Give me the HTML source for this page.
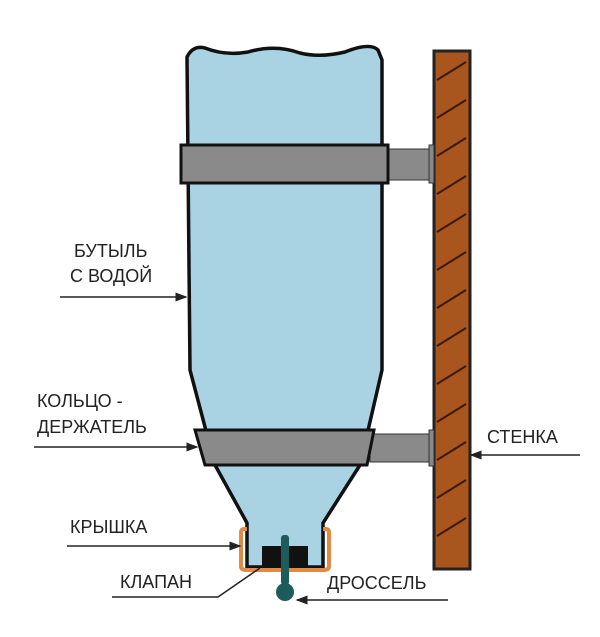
<!DOCTYPE html>
<html><head><meta charset="utf-8"><style>
body{margin:0;background:#fff;width:600px;height:632px;overflow:hidden}
text{font-family:"Liberation Sans",sans-serif;font-size:18px;fill:#222}
</style></head><body>
<svg width="600" height="632" viewBox="0 0 600 632" xmlns="http://www.w3.org/2000/svg">
<defs><marker id="a" markerWidth="8" markerHeight="8" refX="7" refY="4" orient="auto"><path d="M0,1 L8,4 L0,7z" fill="#222"/></marker></defs>
<rect x="434" y="51" width="36" height="518" fill="#a9561e" stroke="#222" stroke-width="3"/>
<g stroke="#3a1a05" stroke-width="2">
<line x1="437" y1="80" x2="466" y2="62"/><line x1="437" y1="118" x2="466" y2="100"/><line x1="437" y1="156" x2="466" y2="138"/><line x1="437" y1="194" x2="466" y2="176"/><line x1="437" y1="232" x2="466" y2="214"/><line x1="437" y1="270" x2="466" y2="252"/><line x1="437" y1="308" x2="466" y2="290"/><line x1="437" y1="346" x2="466" y2="328"/><line x1="437" y1="384" x2="466" y2="366"/><line x1="437" y1="422" x2="466" y2="404"/><line x1="437" y1="460" x2="466" y2="442"/><line x1="437" y1="498" x2="466" y2="480"/><line x1="437" y1="536" x2="466" y2="518"/></g>
<rect x="386" y="149" width="45" height="31" fill="#8a8a8a" stroke="#333" stroke-width="1"/>
<rect x="370" y="434" width="61" height="28" fill="#8a8a8a" stroke="#333" stroke-width="1"/>
<rect x="429" y="145" width="5" height="38" fill="#888" stroke="#333"/>
<rect x="429" y="430" width="5" height="36" fill="#888" stroke="#333"/>
<path d="M187,57 Q193,45 205,48 Q225,56 248,52 Q275,44 300,53 Q320,58 345,52 Q370,42 378,50 L382,60 L382,370 L360,465 L323,523 L323,567 L247,567 L247,523 L215,465 L190,370 Z" fill="#a9d3e3" stroke="#111" stroke-width="3.5"/>
<rect x="181" y="145" width="207" height="38" fill="#8a8a8a" stroke="#111" stroke-width="3"/>
<path d="M195,430 L374,430 L367,465 L205,465 Z" fill="#8a8a8a" stroke="#111" stroke-width="3"/>
<path d="M247,529 L244,529 Q241,529 241,533 L241,566 Q241,570 246,570 L324,570 Q329,570 329,566 L329,533 Q329,529 326,529 L323,529" fill="none" stroke="#e08a45" stroke-width="4"/>
<rect x="262" y="546" width="46" height="21" fill="#111"/>
<rect x="281" y="535" width="8" height="50" rx="3" fill="#1e5b5b"/>
<circle cx="285" cy="592" r="9" fill="#1e5b5b"/>
<text x="74" y="257">БУТЫЛЬ</text>
<text x="70" y="282">С ВОДОЙ</text>
<line x1="60" y1="297" x2="186" y2="297" stroke="#222" stroke-width="1.5" marker-end="url(#a)"/>
<text x="37" y="407">КОЛЬЦО -</text>
<text x="37" y="433">ДЕРЖАТЕЛЬ</text>
<line x1="34" y1="447" x2="197" y2="447" stroke="#222" stroke-width="1.5" marker-end="url(#a)"/>
<text x="487" y="443">СТЕНКА</text>
<line x1="580" y1="455" x2="471" y2="455" stroke="#222" stroke-width="1.5" marker-end="url(#a)"/>
<text x="70" y="533">КРЫШКА</text>
<line x1="67" y1="546" x2="240" y2="546" stroke="#222" stroke-width="1.5" marker-end="url(#a)"/>
<text x="120" y="588">КЛАПАН</text>
<polyline points="112,597 218,597 260,568" fill="none" stroke="#222" stroke-width="1.5"/>
<text x="327" y="589">ДРОССЕЛЬ</text>
<line x1="448" y1="600" x2="297" y2="600" stroke="#222" stroke-width="1.5" marker-end="url(#a)"/>
</svg>
</body></html>
